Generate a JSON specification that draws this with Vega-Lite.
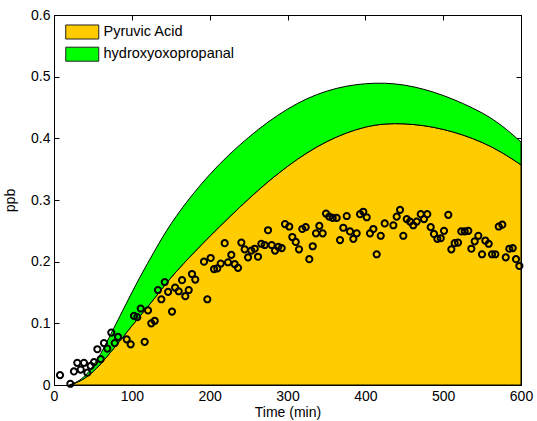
{
  "$schema": "https://vega.github.io/schema/vega-lite/v6.json",
  "width": 467,
  "height": 370,
  "autosize": {"type": "none"},
  "padding": {"left": 54, "top": 15, "right": 16, "bottom": 36},
  "background": "white",
  "config": {
    "view": {"stroke": "black", "strokeWidth": 1},
    "font": "Liberation Sans",
    "axis": {
      "labelFont": "Liberation Sans",
      "labelFontSize": 14,
      "labelColor": "black",
      "labelFlush": false,
      "titleFont": "Liberation Sans",
      "titleFontSize": 14,
      "titleFontWeight": "normal",
      "titleColor": "black",
      "domainColor": "black",
      "tickColor": "black",
      "grid": false,
      "tickSize": -5
    }
  },
  "datasets": {
    "curves": [
      {"t": 20, "species": "Pyruvic Acid", "ppb": 0}, {"t": 20, "species": "hydroxyoxopropanal", "ppb": 0},
      {"t": 30, "species": "Pyruvic Acid", "ppb": 0.004}, {"t": 30, "species": "hydroxyoxopropanal", "ppb": 0.001},
      {"t": 40, "species": "Pyruvic Acid", "ppb": 0.011}, {"t": 40, "species": "hydroxyoxopropanal", "ppb": 0.003},
      {"t": 50, "species": "Pyruvic Acid", "ppb": 0.021}, {"t": 50, "species": "hydroxyoxopropanal", "ppb": 0.009},
      {"t": 60, "species": "Pyruvic Acid", "ppb": 0.034}, {"t": 60, "species": "hydroxyoxopropanal", "ppb": 0.016},
      {"t": 70, "species": "Pyruvic Acid", "ppb": 0.049}, {"t": 70, "species": "hydroxyoxopropanal", "ppb": 0.026},
      {"t": 80, "species": "Pyruvic Acid", "ppb": 0.064}, {"t": 80, "species": "hydroxyoxopropanal", "ppb": 0.036},
      {"t": 90, "species": "Pyruvic Acid", "ppb": 0.080}, {"t": 90, "species": "hydroxyoxopropanal", "ppb": 0.045},
      {"t": 100, "species": "Pyruvic Acid", "ppb": 0.096}, {"t": 100, "species": "hydroxyoxopropanal", "ppb": 0.054},
      {"t": 110, "species": "Pyruvic Acid", "ppb": 0.111}, {"t": 110, "species": "hydroxyoxopropanal", "ppb": 0.063},
      {"t": 120, "species": "Pyruvic Acid", "ppb": 0.126}, {"t": 120, "species": "hydroxyoxopropanal", "ppb": 0.071},
      {"t": 130, "species": "Pyruvic Acid", "ppb": 0.142}, {"t": 130, "species": "hydroxyoxopropanal", "ppb": 0.077},
      {"t": 140, "species": "Pyruvic Acid", "ppb": 0.158}, {"t": 140, "species": "hydroxyoxopropanal", "ppb": 0.083},
      {"t": 150, "species": "Pyruvic Acid", "ppb": 0.174}, {"t": 150, "species": "hydroxyoxopropanal", "ppb": 0.087},
      {"t": 165, "species": "Pyruvic Acid", "ppb": 0.195}, {"t": 165, "species": "hydroxyoxopropanal", "ppb": 0.093},
      {"t": 180, "species": "Pyruvic Acid", "ppb": 0.215}, {"t": 180, "species": "hydroxyoxopropanal", "ppb": 0.097},
      {"t": 200, "species": "Pyruvic Acid", "ppb": 0.241}, {"t": 200, "species": "hydroxyoxopropanal", "ppb": 0.101},
      {"t": 225, "species": "Pyruvic Acid", "ppb": 0.272}, {"t": 225, "species": "hydroxyoxopropanal", "ppb": 0.102},
      {"t": 250, "species": "Pyruvic Acid", "ppb": 0.302}, {"t": 250, "species": "hydroxyoxopropanal", "ppb": 0.100},
      {"t": 275, "species": "Pyruvic Acid", "ppb": 0.330}, {"t": 275, "species": "hydroxyoxopropanal", "ppb": 0.097},
      {"t": 300, "species": "Pyruvic Acid", "ppb": 0.355}, {"t": 300, "species": "hydroxyoxopropanal", "ppb": 0.093},
      {"t": 325, "species": "Pyruvic Acid", "ppb": 0.377}, {"t": 325, "species": "hydroxyoxopropanal", "ppb": 0.088},
      {"t": 350, "species": "Pyruvic Acid", "ppb": 0.395}, {"t": 350, "species": "hydroxyoxopropanal", "ppb": 0.082},
      {"t": 375, "species": "Pyruvic Acid", "ppb": 0.409}, {"t": 375, "species": "hydroxyoxopropanal", "ppb": 0.076},
      {"t": 400, "species": "Pyruvic Acid", "ppb": 0.419}, {"t": 400, "species": "hydroxyoxopropanal", "ppb": 0.070},
      {"t": 425, "species": "Pyruvic Acid", "ppb": 0.424}, {"t": 425, "species": "hydroxyoxopropanal", "ppb": 0.066},
      {"t": 450, "species": "Pyruvic Acid", "ppb": 0.424}, {"t": 450, "species": "hydroxyoxopropanal", "ppb": 0.063},
      {"t": 475, "species": "Pyruvic Acid", "ppb": 0.421}, {"t": 475, "species": "hydroxyoxopropanal", "ppb": 0.059},
      {"t": 500, "species": "Pyruvic Acid", "ppb": 0.415}, {"t": 500, "species": "hydroxyoxopropanal", "ppb": 0.055},
      {"t": 525, "species": "Pyruvic Acid", "ppb": 0.406}, {"t": 525, "species": "hydroxyoxopropanal", "ppb": 0.051},
      {"t": 550, "species": "Pyruvic Acid", "ppb": 0.394}, {"t": 550, "species": "hydroxyoxopropanal", "ppb": 0.048},
      {"t": 575, "species": "Pyruvic Acid", "ppb": 0.378}, {"t": 575, "species": "hydroxyoxopropanal", "ppb": 0.044},
      {"t": 600, "species": "Pyruvic Acid", "ppb": 0.357}, {"t": 600, "species": "hydroxyoxopropanal", "ppb": 0.037}
    ],
    "obs": [
      {"t": 7.7, "ppb": 0.016}, {"t": 21, "ppb": 0.002}, {"t": 25.6, "ppb": 0.022}, {"t": 29.9, "ppb": 0.036},
      {"t": 34.3, "ppb": 0.025}, {"t": 38.5, "ppb": 0.036}, {"t": 42.8, "ppb": 0.020}, {"t": 47.1, "ppb": 0.031},
      {"t": 51.4, "ppb": 0.037}, {"t": 55.7, "ppb": 0.058}, {"t": 60, "ppb": 0.042}, {"t": 64.2, "ppb": 0.068},
      {"t": 68.5, "ppb": 0.059}, {"t": 73.6, "ppb": 0.085}, {"t": 78, "ppb": 0.068}, {"t": 82.2, "ppb": 0.078},
      {"t": 93.4, "ppb": 0.074}, {"t": 98.5, "ppb": 0.066}, {"t": 102.8, "ppb": 0.112}, {"t": 107, "ppb": 0.110},
      {"t": 111.4, "ppb": 0.124}, {"t": 116.5, "ppb": 0.070}, {"t": 120.8, "ppb": 0.121}, {"t": 125, "ppb": 0.100},
      {"t": 129.4, "ppb": 0.104}, {"t": 133.6, "ppb": 0.154}, {"t": 137.9, "ppb": 0.139}, {"t": 142.3, "ppb": 0.167},
      {"t": 146.6, "ppb": 0.151}, {"t": 151.6, "ppb": 0.119}, {"t": 155.6, "ppb": 0.158}, {"t": 160.2, "ppb": 0.152},
      {"t": 164.5, "ppb": 0.170}, {"t": 168.7, "ppb": 0.144}, {"t": 173.1, "ppb": 0.154}, {"t": 177.3, "ppb": 0.180},
      {"t": 181.5, "ppb": 0.171}, {"t": 192.7, "ppb": 0.200}, {"t": 197, "ppb": 0.139}, {"t": 201.3, "ppb": 0.206},
      {"t": 205.6, "ppb": 0.188}, {"t": 209.8, "ppb": 0.189}, {"t": 214.2, "ppb": 0.197}, {"t": 219.3, "ppb": 0.230},
      {"t": 223.6, "ppb": 0.199}, {"t": 227.8, "ppb": 0.211}, {"t": 232.2, "ppb": 0.196}, {"t": 236.4, "ppb": 0.190},
      {"t": 240.7, "ppb": 0.231}, {"t": 245, "ppb": 0.220}, {"t": 249.3, "ppb": 0.207}, {"t": 253.5, "ppb": 0.218},
      {"t": 257.9, "ppb": 0.221}, {"t": 262.1, "ppb": 0.208}, {"t": 266.4, "ppb": 0.229}, {"t": 270.7, "ppb": 0.227},
      {"t": 275, "ppb": 0.251}, {"t": 279.7, "ppb": 0.227}, {"t": 284, "ppb": 0.218}, {"t": 288.2, "ppb": 0.224},
      {"t": 292.6, "ppb": 0.222}, {"t": 296.8, "ppb": 0.261}, {"t": 302.3, "ppb": 0.257}, {"t": 306.2, "ppb": 0.240},
      {"t": 310.6, "ppb": 0.232}, {"t": 314.8, "ppb": 0.220}, {"t": 319, "ppb": 0.253}, {"t": 323.4, "ppb": 0.256},
      {"t": 328, "ppb": 0.204}, {"t": 332.4, "ppb": 0.225}, {"t": 336.6, "ppb": 0.246}, {"t": 340.9, "ppb": 0.258},
      {"t": 345.2, "ppb": 0.246}, {"t": 349.5, "ppb": 0.278}, {"t": 353.7, "ppb": 0.273}, {"t": 358.1, "ppb": 0.271},
      {"t": 363.2, "ppb": 0.271}, {"t": 367.5, "ppb": 0.235}, {"t": 371.7, "ppb": 0.255}, {"t": 376.1, "ppb": 0.274},
      {"t": 380.3, "ppb": 0.249}, {"t": 384.6, "ppb": 0.237}, {"t": 388.9, "ppb": 0.246}, {"t": 393.2, "ppb": 0.277},
      {"t": 397.4, "ppb": 0.281}, {"t": 401.8, "ppb": 0.272}, {"t": 406, "ppb": 0.246}, {"t": 410.3, "ppb": 0.253},
      {"t": 414.6, "ppb": 0.212}, {"t": 419.8, "ppb": 0.242}, {"t": 424.9, "ppb": 0.262}, {"t": 436, "ppb": 0.259},
      {"t": 440.3, "ppb": 0.273}, {"t": 444.6, "ppb": 0.284}, {"t": 448.8, "ppb": 0.242}, {"t": 453.2, "ppb": 0.269},
      {"t": 457.4, "ppb": 0.265}, {"t": 461.6, "ppb": 0.259}, {"t": 466, "ppb": 0.265}, {"t": 471.2, "ppb": 0.277},
      {"t": 475.4, "ppb": 0.269}, {"t": 479.6, "ppb": 0.277}, {"t": 484, "ppb": 0.256}, {"t": 488.2, "ppb": 0.245},
      {"t": 492.5, "ppb": 0.237}, {"t": 496.9, "ppb": 0.238}, {"t": 501.1, "ppb": 0.250}, {"t": 506.6, "ppb": 0.276},
      {"t": 510.5, "ppb": 0.220}, {"t": 514.8, "ppb": 0.230}, {"t": 519.1, "ppb": 0.231}, {"t": 523.3, "ppb": 0.249},
      {"t": 527.7, "ppb": 0.249}, {"t": 532.3, "ppb": 0.250}, {"t": 536.2, "ppb": 0.221}, {"t": 540.5, "ppb": 0.233},
      {"t": 545.2, "ppb": 0.242}, {"t": 549.9, "ppb": 0.212}, {"t": 554.2, "ppb": 0.234}, {"t": 558.5, "ppb": 0.229},
      {"t": 562.8, "ppb": 0.212}, {"t": 567, "ppb": 0.212}, {"t": 571.4, "ppb": 0.257}, {"t": 576, "ppb": 0.260},
      {"t": 580.4, "ppb": 0.207}, {"t": 585, "ppb": 0.221}, {"t": 589.4, "ppb": 0.222}, {"t": 593.6, "ppb": 0.204},
      {"t": 597.9, "ppb": 0.193}
    ]
  },
  "layer": [
    {
      "data": {"name": "curves"},
      "mark": {"type": "area", "stroke": "black", "strokeWidth": 1, "interpolate": "basis", "opacity": 1},
      "encoding": {
        "x": {
          "field": "t", "type": "quantitative",
          "scale": {"domain": [0, 600], "nice": false},
          "axis": {"values": [0, 100, 200, 300, 400, 500, 600], "title": "Time (min)", "labelPadding": 9, "titlePadding": 2}
        },
        "y": {
          "field": "ppb", "type": "quantitative", "stack": "zero",
          "scale": {"domain": [0, 0.6], "nice": false},
          "axis": {"values": [0, 0.1, 0.2, 0.3, 0.4, 0.5, 0.6], "title": "ppb", "labelExpr": "datum.value == 0 ? '0' : format(datum.value, '.1f')", "labelPadding": 9, "titlePadding": 13}
        },
        "color": {
          "field": "species", "type": "nominal",
          "scale": {"domain": ["Pyruvic Acid", "hydroxyoxopropanal"], "range": ["#FFCC00", "#00FF00"]},
          "legend": {
            "orient": "none", "legendX": 19.25, "legendY": 8, "title": null, "padding": 0,
            "symbolType": "M-2,-0.85H2V0.85H-2Z", "symbolSize": 272,
            "symbolStrokeColor": "#222", "symbolStrokeWidth": 1, "symbolOpacity": 1,
            "labelFont": "Liberation Sans", "labelFontSize": 14.5, "labelColor": "black",
            "labelOffset": 12.25, "rowPadding": 2.2
          }
        },
        "order": {"field": "species", "sort": "ascending"}
      }
    },
    {
      "data": {"name": "obs"},
      "mark": {"type": "point", "shape": "circle", "filled": false, "stroke": "black", "strokeWidth": 2, "size": 38, "opacity": 1},
      "encoding": {
        "x": {
          "field": "t", "type": "quantitative",
          "scale": {"domain": [0, 600], "nice": false},
          "axis": {"orient": "top", "labels": false, "title": null, "values": [0, 100, 200, 300, 400, 500, 600]}
        },
        "y": {
          "field": "ppb", "type": "quantitative",
          "scale": {"domain": [0, 0.6], "nice": false},
          "axis": {"orient": "right", "labels": false, "title": null, "values": [0, 0.1, 0.2, 0.3, 0.4, 0.5, 0.6]}
        }
      }
    }
  ],
  "resolve": {"axis": {"x": "independent", "y": "independent"}}
}
